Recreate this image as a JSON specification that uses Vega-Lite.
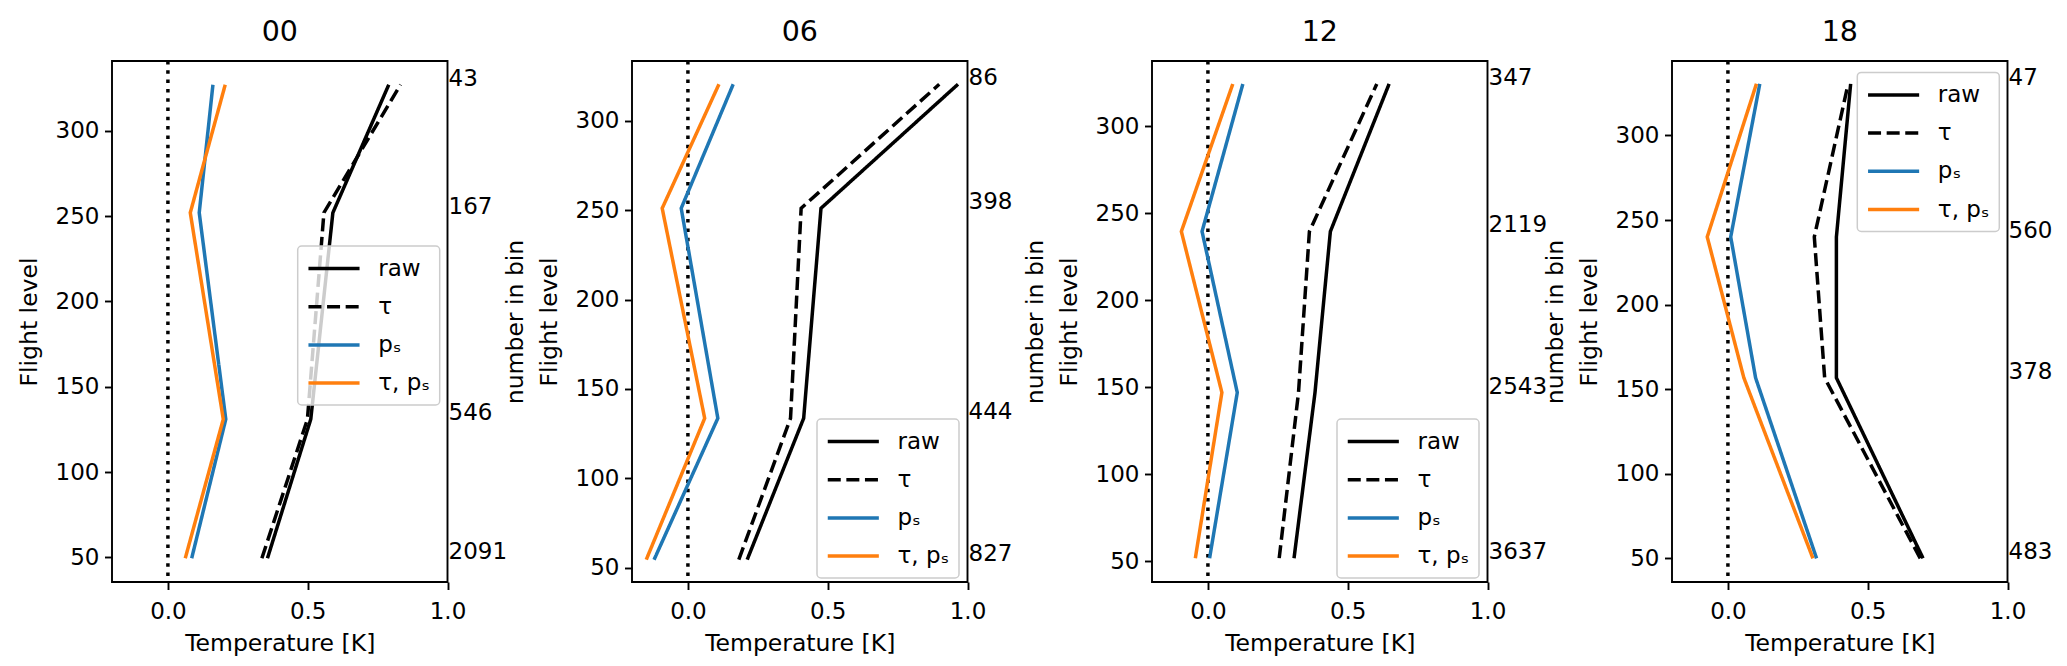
{
  "$schema": "https://vega.github.io/schema/vega-lite/v6.json",
  "description": "Temperature bias profiles by flight level for four analysis times",
  "autosize": {"type": "pad"},
  "padding": {"left": 16, "top": 17, "right": 0, "bottom": 0},
  "background": "white",
  "datasets": {
    "profiles": [
      {"panel": "00", "series": "raw", "fl": 327, "temp": 0.79},
      {"panel": "00", "series": "raw", "fl": 252, "temp": 0.59},
      {"panel": "00", "series": "raw", "fl": 131, "temp": 0.511},
      {"panel": "00", "series": "raw", "fl": 49.5, "temp": 0.356},
      {"panel": "00", "series": "τ", "fl": 327, "temp": 0.832},
      {"panel": "00", "series": "τ", "fl": 252, "temp": 0.558},
      {"panel": "00", "series": "τ", "fl": 131, "temp": 0.499},
      {"panel": "00", "series": "τ", "fl": 49.5, "temp": 0.336},
      {"panel": "00", "series": "pₛ", "fl": 327, "temp": 0.161},
      {"panel": "00", "series": "pₛ", "fl": 252, "temp": 0.112},
      {"panel": "00", "series": "pₛ", "fl": 131, "temp": 0.207},
      {"panel": "00", "series": "pₛ", "fl": 49.5, "temp": 0.085},
      {"panel": "00", "series": "τ, pₛ", "fl": 327, "temp": 0.205},
      {"panel": "00", "series": "τ, pₛ", "fl": 252, "temp": 0.08},
      {"panel": "00", "series": "τ, pₛ", "fl": 131, "temp": 0.198},
      {"panel": "00", "series": "τ, pₛ", "fl": 49.5, "temp": 0.062},
      {"panel": "06", "series": "raw", "fl": 320.5, "temp": 0.966},
      {"panel": "06", "series": "raw", "fl": 251.1, "temp": 0.476},
      {"panel": "06", "series": "raw", "fl": 133.6, "temp": 0.414},
      {"panel": "06", "series": "raw", "fl": 54.5, "temp": 0.212},
      {"panel": "06", "series": "τ", "fl": 320.5, "temp": 0.899},
      {"panel": "06", "series": "τ", "fl": 251.1, "temp": 0.405},
      {"panel": "06", "series": "τ", "fl": 133.6, "temp": 0.367},
      {"panel": "06", "series": "τ", "fl": 54.5, "temp": 0.182},
      {"panel": "06", "series": "pₛ", "fl": 320.5, "temp": 0.162},
      {"panel": "06", "series": "pₛ", "fl": 251.1, "temp": -0.024},
      {"panel": "06", "series": "pₛ", "fl": 133.6, "temp": 0.107},
      {"panel": "06", "series": "pₛ", "fl": 54.5, "temp": -0.121},
      {"panel": "06", "series": "τ, pₛ", "fl": 320.5, "temp": 0.111},
      {"panel": "06", "series": "τ, pₛ", "fl": 251.1, "temp": -0.092},
      {"panel": "06", "series": "τ, pₛ", "fl": 133.6, "temp": 0.06},
      {"panel": "06", "series": "τ, pₛ", "fl": 54.5, "temp": -0.149},
      {"panel": "12", "series": "raw", "fl": 324.3, "temp": 0.648},
      {"panel": "12", "series": "raw", "fl": 239.5, "temp": 0.438},
      {"panel": "12", "series": "raw", "fl": 146.9, "temp": 0.383},
      {"panel": "12", "series": "raw", "fl": 51.7, "temp": 0.308},
      {"panel": "12", "series": "τ", "fl": 324.3, "temp": 0.604},
      {"panel": "12", "series": "τ", "fl": 239.5, "temp": 0.363},
      {"panel": "12", "series": "τ", "fl": 146.9, "temp": 0.324},
      {"panel": "12", "series": "τ", "fl": 51.7, "temp": 0.255},
      {"panel": "12", "series": "pₛ", "fl": 324.3, "temp": 0.125},
      {"panel": "12", "series": "pₛ", "fl": 239.5, "temp": -0.021},
      {"panel": "12", "series": "pₛ", "fl": 146.9, "temp": 0.105},
      {"panel": "12", "series": "pₛ", "fl": 51.7, "temp": 0.006},
      {"panel": "12", "series": "τ, pₛ", "fl": 324.3, "temp": 0.089},
      {"panel": "12", "series": "τ, pₛ", "fl": 239.5, "temp": -0.095},
      {"panel": "12", "series": "τ, pₛ", "fl": 146.9, "temp": 0.05},
      {"panel": "12", "series": "τ, pₛ", "fl": 51.7, "temp": -0.045},
      {"panel": "18", "series": "raw", "fl": 330.5, "temp": 0.439},
      {"panel": "18", "series": "raw", "fl": 240, "temp": 0.388},
      {"panel": "18", "series": "raw", "fl": 156.7, "temp": 0.388},
      {"panel": "18", "series": "raw", "fl": 50, "temp": 0.698},
      {"panel": "18", "series": "τ", "fl": 330.5, "temp": 0.43},
      {"panel": "18", "series": "τ", "fl": 240, "temp": 0.309},
      {"panel": "18", "series": "τ", "fl": 156.7, "temp": 0.346},
      {"panel": "18", "series": "τ", "fl": 50, "temp": 0.688},
      {"panel": "18", "series": "pₛ", "fl": 330.5, "temp": 0.114},
      {"panel": "18", "series": "pₛ", "fl": 240, "temp": 0.01},
      {"panel": "18", "series": "pₛ", "fl": 156.7, "temp": 0.099},
      {"panel": "18", "series": "pₛ", "fl": 50, "temp": 0.317},
      {"panel": "18", "series": "τ, pₛ", "fl": 330.5, "temp": 0.102},
      {"panel": "18", "series": "τ, pₛ", "fl": 240, "temp": -0.074},
      {"panel": "18", "series": "τ, pₛ", "fl": 156.7, "temp": 0.057},
      {"panel": "18", "series": "τ, pₛ", "fl": 50, "temp": 0.304}
    ],
    "counts": [
      {"panel": "00", "fl": 327, "n": 43},
      {"panel": "00", "fl": 252, "n": 167},
      {"panel": "00", "fl": 131, "n": 546},
      {"panel": "00", "fl": 49.5, "n": 2091},
      {"panel": "06", "fl": 320.5, "n": 86},
      {"panel": "06", "fl": 251.1, "n": 398},
      {"panel": "06", "fl": 133.6, "n": 444},
      {"panel": "06", "fl": 54.5, "n": 827},
      {"panel": "12", "fl": 324.3, "n": 347},
      {"panel": "12", "fl": 239.5, "n": 2119},
      {"panel": "12", "fl": 146.9, "n": 2543},
      {"panel": "12", "fl": 51.7, "n": 3637},
      {"panel": "18", "fl": 330.5, "n": 47},
      {"panel": "18", "fl": 240, "n": 560},
      {"panel": "18", "fl": 156.7, "n": 378},
      {"panel": "18", "fl": 50, "n": 483}
    ],
    "zero": [{"temp": 0}]
  },
  "bounds": "flush",
  "spacing": 184,
  "hconcat": [
    {
      "title": {"text": "00"},
      "width": 335.5,
      "height": 521,
      "resolve": {"axis": {"y": "independent"}},
      "layer": [
        {
          "data": {"name": "zero"},
          "mark": {"type": "rule", "color": "black", "strokeWidth": 3.5, "strokeDash": [3.5, 5.8]},
          "encoding": {
            "x": {"field": "temp", "type": "quantitative", "scale": {"domain": [-0.2, 1.0], "nice": false, "zero": false}, "axis": {"values": [0, 0.5, 1], "format": ".1f", "title": "Temperature [K]"}}
          }
        },
        {
          "data": {"name": "profiles"},
          "transform": [{"filter": "datum.panel === '00'"}],
          "mark": {"type": "line", "strokeWidth": 3.5},
          "encoding": {
            "x": {"field": "temp", "type": "quantitative", "scale": {"domain": [-0.2, 1.0], "nice": false, "zero": false}, "axis": {"values": [0, 0.5, 1], "format": ".1f", "title": "Temperature [K]"}},
            "y": {"field": "fl", "type": "quantitative", "scale": {"domain": [35.6, 340.9], "nice": false, "zero": false}, "axis": {"orient": "left", "values": [50, 100, 150, 200, 250, 300], "format": "d", "title": "Flight level"}},
            "order": {"field": "fl", "type": "quantitative"},
            "color": {"field": "series", "type": "nominal", "scale": {"domain": ["raw", "τ", "pₛ", "τ, pₛ"], "range": ["#000000", "#000000", "#1f77b4", "#ff7f0e"]}, "legend": {"title": null, "legendX": 185.7, "legendY": 185}},
            "strokeDash": {"field": "series", "type": "nominal", "scale": {"domain": ["raw", "τ", "pₛ", "τ, pₛ"], "range": [[1, 0], [13, 5.6], [1, 0], [1, 0]]}, "legend": {"title": null, "legendX": 185.7, "legendY": 185}}
          }
        },
        {
          "data": {"name": "counts"},
          "transform": [{"filter": "datum.panel === '00'"}],
          "mark": {"type": "text", "align": "left", "baseline": "alphabetic", "dx": 1, "dy": 1, "fontSize": 23, "color": "black"},
          "encoding": {
            "x": {"datum": 1, "type": "quantitative"},
            "y": {"field": "fl", "type": "quantitative", "axis": {"orient": "right", "title": "number in bin", "labels": false, "ticks": false, "domain": false, "titleAngle": 270, "titleX": 75, "titleY": 260.5}},
            "text": {"field": "n", "type": "quantitative", "format": "d"}
          }
        }
      ]
    },
    {
      "title": {"text": "06"},
      "width": 335.5,
      "height": 521,
      "resolve": {"axis": {"y": "independent"}},
      "layer": [
        {
          "data": {"name": "zero"},
          "mark": {"type": "rule", "color": "black", "strokeWidth": 3.5, "strokeDash": [3.5, 5.8]},
          "encoding": {
            "x": {"field": "temp", "type": "quantitative", "scale": {"domain": [-0.2, 1.0], "nice": false, "zero": false}, "axis": {"values": [0, 0.5, 1], "format": ".1f", "title": "Temperature [K]"}}
          }
        },
        {
          "data": {"name": "profiles"},
          "transform": [{"filter": "datum.panel === '06'"}],
          "mark": {"type": "line", "strokeWidth": 3.5},
          "encoding": {
            "x": {"field": "temp", "type": "quantitative", "scale": {"domain": [-0.2, 1.0], "nice": false, "zero": false}, "axis": {"values": [0, 0.5, 1], "format": ".1f", "title": "Temperature [K]"}},
            "y": {"field": "fl", "type": "quantitative", "scale": {"domain": [42, 333.5], "nice": false, "zero": false}, "axis": {"orient": "left", "values": [50, 100, 150, 200, 250, 300], "format": "d", "title": "Flight level"}},
            "order": {"field": "fl", "type": "quantitative"},
            "color": {"field": "series", "type": "nominal", "scale": {"domain": ["raw", "τ", "pₛ", "τ, pₛ"], "range": ["#000000", "#000000", "#1f77b4", "#ff7f0e"]}, "legend": {"title": null, "legendX": 185, "legendY": 358}},
            "strokeDash": {"field": "series", "type": "nominal", "scale": {"domain": ["raw", "τ", "pₛ", "τ, pₛ"], "range": [[1, 0], [13, 5.6], [1, 0], [1, 0]]}, "legend": {"title": null, "legendX": 185, "legendY": 358}}
          }
        },
        {
          "data": {"name": "counts"},
          "transform": [{"filter": "datum.panel === '06'"}],
          "mark": {"type": "text", "align": "left", "baseline": "alphabetic", "dx": 1, "dy": 1, "fontSize": 23, "color": "black"},
          "encoding": {
            "x": {"datum": 1, "type": "quantitative"},
            "y": {"field": "fl", "type": "quantitative", "axis": {"orient": "right", "title": "number in bin", "labels": false, "ticks": false, "domain": false, "titleAngle": 270, "titleX": 75, "titleY": 260.5}},
            "text": {"field": "n", "type": "quantitative", "format": "d"}
          }
        }
      ]
    },
    {
      "title": {"text": "12"},
      "width": 335.5,
      "height": 521,
      "resolve": {"axis": {"y": "independent"}},
      "layer": [
        {
          "data": {"name": "zero"},
          "mark": {"type": "rule", "color": "black", "strokeWidth": 3.5, "strokeDash": [3.5, 5.8]},
          "encoding": {
            "x": {"field": "temp", "type": "quantitative", "scale": {"domain": [-0.2, 1.0], "nice": false, "zero": false}, "axis": {"values": [0, 0.5, 1], "format": ".1f", "title": "Temperature [K]"}}
          }
        },
        {
          "data": {"name": "profiles"},
          "transform": [{"filter": "datum.panel === '12'"}],
          "mark": {"type": "line", "strokeWidth": 3.5},
          "encoding": {
            "x": {"field": "temp", "type": "quantitative", "scale": {"domain": [-0.2, 1.0], "nice": false, "zero": false}, "axis": {"values": [0, 0.5, 1], "format": ".1f", "title": "Temperature [K]"}},
            "y": {"field": "fl", "type": "quantitative", "scale": {"domain": [38, 337.5], "nice": false, "zero": false}, "axis": {"orient": "left", "values": [50, 100, 150, 200, 250, 300], "format": "d", "title": "Flight level"}},
            "order": {"field": "fl", "type": "quantitative"},
            "color": {"field": "series", "type": "nominal", "scale": {"domain": ["raw", "τ", "pₛ", "τ, pₛ"], "range": ["#000000", "#000000", "#1f77b4", "#ff7f0e"]}, "legend": {"title": null, "legendX": 185, "legendY": 358}},
            "strokeDash": {"field": "series", "type": "nominal", "scale": {"domain": ["raw", "τ", "pₛ", "τ, pₛ"], "range": [[1, 0], [13, 5.6], [1, 0], [1, 0]]}, "legend": {"title": null, "legendX": 185, "legendY": 358}}
          }
        },
        {
          "data": {"name": "counts"},
          "transform": [{"filter": "datum.panel === '12'"}],
          "mark": {"type": "text", "align": "left", "baseline": "alphabetic", "dx": 1, "dy": 1, "fontSize": 23, "color": "black"},
          "encoding": {
            "x": {"datum": 1, "type": "quantitative"},
            "y": {"field": "fl", "type": "quantitative", "axis": {"orient": "right", "title": "number in bin", "labels": false, "ticks": false, "domain": false, "titleAngle": 270, "titleX": 75, "titleY": 260.5}},
            "text": {"field": "n", "type": "quantitative", "format": "d"}
          }
        }
      ]
    },
    {
      "title": {"text": "18"},
      "width": 335.5,
      "height": 521,
      "resolve": {"axis": {"y": "independent"}},
      "layer": [
        {
          "data": {"name": "zero"},
          "mark": {"type": "rule", "color": "black", "strokeWidth": 3.5, "strokeDash": [3.5, 5.8]},
          "encoding": {
            "x": {"field": "temp", "type": "quantitative", "scale": {"domain": [-0.2, 1.0], "nice": false, "zero": false}, "axis": {"values": [0, 0.5, 1], "format": ".1f", "title": "Temperature [K]"}}
          }
        },
        {
          "data": {"name": "profiles"},
          "transform": [{"filter": "datum.panel === '18'"}],
          "mark": {"type": "line", "strokeWidth": 3.5},
          "encoding": {
            "x": {"field": "temp", "type": "quantitative", "scale": {"domain": [-0.2, 1.0], "nice": false, "zero": false}, "axis": {"values": [0, 0.5, 1], "format": ".1f", "title": "Temperature [K]"}},
            "y": {"field": "fl", "type": "quantitative", "scale": {"domain": [36, 344], "nice": false, "zero": false}, "axis": {"orient": "left", "values": [50, 100, 150, 200, 250, 300], "format": "d", "title": "Flight level"}},
            "order": {"field": "fl", "type": "quantitative"},
            "color": {"field": "series", "type": "nominal", "scale": {"domain": ["raw", "τ", "pₛ", "τ, pₛ"], "range": ["#000000", "#000000", "#1f77b4", "#ff7f0e"]}, "legend": {"title": null, "legendX": 185.3, "legendY": 11.4}},
            "strokeDash": {"field": "series", "type": "nominal", "scale": {"domain": ["raw", "τ", "pₛ", "τ, pₛ"], "range": [[1, 0], [13, 5.6], [1, 0], [1, 0]]}, "legend": {"title": null, "legendX": 185.3, "legendY": 11.4}}
          }
        },
        {
          "data": {"name": "counts"},
          "transform": [{"filter": "datum.panel === '18'"}],
          "mark": {"type": "text", "align": "left", "baseline": "alphabetic", "dx": 1, "dy": 1, "fontSize": 23, "color": "black"},
          "encoding": {
            "x": {"datum": 1, "type": "quantitative"},
            "y": {"field": "fl", "type": "quantitative", "axis": null},
            "text": {"field": "n", "type": "quantitative", "format": "d"}
          }
        }
      ]
    }
  ],
  "resolve": {
    "scale": {"x": "independent", "y": "independent", "color": "independent", "strokeDash": "independent"},
    "legend": {"color": "independent", "strokeDash": "independent"}
  },
  "config": {
    "font": "DejaVu Sans",
    "view": {"stroke": "black", "strokeWidth": 1.9},
    "title": {"fontSize": 28.5, "fontWeight": "normal", "color": "black", "baseline": "alphabetic", "offset": 12.7, "anchor": "middle", "frame": "group"},
    "axis": {
      "domain": false,
      "grid": false,
      "tickColor": "black",
      "tickWidth": 1.9,
      "tickSize": 7.5,
      "labelFontSize": 23,
      "labelColor": "black",
      "labelFlush": false,
      "labelOverlap": false,
      "titleFontSize": 23.5,
      "titleFontWeight": "normal",
      "titleColor": "black",
      "titleBaseline": "alphabetic",
      "titleAlign": "center"
    },
    "axisX": {"labelPadding": 11, "titleX": 167.75, "titleY": 68.7},
    "axisLeft": {"labelPadding": 5.5, "titleAngle": 270, "titleX": -76, "titleY": 260.5},
    "legend": {
      "orient": "none",
      "symbolType": "M-1,0L3.35,0",
      "symbolSize": 552,
      "symbolStrokeWidth": 3.5,
      "labelFontSize": 23,
      "labelColor": "black",
      "labelOffset": 44.5,
      "rowPadding": 12.2,
      "padding": 9,
      "strokeColor": "#cccccc",
      "strokeWidth": 1.5,
      "fillColor": "rgba(255,255,255,0.8)",
      "cornerRadius": 4
    }
  }
}
